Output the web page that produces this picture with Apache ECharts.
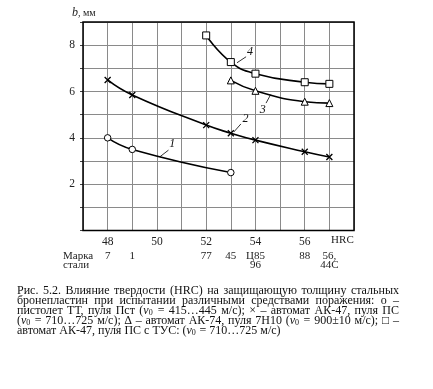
<!DOCTYPE html>
<html><head><meta charset="utf-8">
<script src="https://cdn.jsdelivr.net/npm/echarts@6/dist/echarts.min.js"></script>
<style>html,body{margin:0;padding:0;background:#fff}#c{width:433px;height:389px}</style>
</head><body><div id="c"></div>
<script>
// ---- data ----
const hrcLabels = [48, 50, 52, 54, 56];
const yLabels = [2, 4, 6, 8];
const steelPos = [48, 49, 52, 53, 54, 56, 57];
const steelLabels = ['7', '1', '77', '45', 'Ц85\n96', '88', '56,\n44С'];
const s1x = [48, 49, 53];
const s1y = [4.0, 3.5, 2.5];
const s2x = [48, 49, 52, 53, 54, 56, 57];
const s2y = [6.5, 5.85, 4.55, 4.2, 3.9, 3.4, 3.17];
const s3x = [53, 54, 56, 57];
const s3y = [6.48, 6.03, 5.56, 5.5];
const s4x = [52, 53, 54, 56, 57];
const s4y = [8.42, 7.27, 6.77, 6.4, 6.33];
const curveNames = ['1', '2', '3', '4'];
const captionLines = [
  'Рис. 5.2. Влияние твердости (HRC) на защищающую толщину стальных',
  'бронепластин при испытании различными средствами поражения: о –',
  'пистолет ТТ, пуля Пст (v0 = 415…445 м/с); × – автомат АК-47, пуля ПС',
  '(v0 = 710…725 м/с); ∆ – автомат АК-74, пуля 7Н10 (v0 = 900±10 м/с); □ –',
  'автомат АК-47, пуля ПС с ТУС: (v0 = 710…725 м/с)'
];

// ---- annotation anchors (data coords) ----
const annot = [
  { t: curveNames[0], a: [50.13, 3.19], b: [50.47, 3.47], txt: [50.62, 3.72] },
  { t: curveNames[1], a: [53.12, 4.25], b: [53.41, 4.6], txt: [53.6, 4.8] },
  { t: curveNames[2], a: [54.62, 5.87], b: [54.43, 5.5], txt: [54.3, 5.22] },
  { t: curveNames[3], a: [53.25, 7.24], b: [53.62, 7.5], txt: [53.78, 7.7] }
];

const zip = (xs, ys) => xs.map((x, i) => [x, ys[i]]);
const FONT = 'Liberation Serif';
const chart = echarts.init(document.getElementById('c'), null, { renderer: 'canvas' });

const mk = {
  itemStyle: { color: '#fff', borderColor: '#000', borderWidth: 1 },
  lineStyle: { color: '#000', width: 1.6 },
  smooth: 0.5,
  showSymbol: true,
  symbolSize: 7,
  z: 3
};

chart.setOption({
  animation: false,
  backgroundColor: '#fff',
  grid: { left: 83, top: 22, width: 271, height: 208.5, show: true, borderColor: '#000', borderWidth: 1.5, backgroundColor: 'transparent', z: 5 },
  xAxis: [{
    type: 'value', min: 47, max: 58, interval: 1, position: 'bottom',
    axisLine: { show: false }, axisTick: { show: false },
    splitLine: { show: true, lineStyle: { color: '#8a8a8a', width: 1 } },
    axisLabel: { margin: 5, fontFamily: FONT, fontSize: 11.5, color: '#222',
      formatter: v => hrcLabels.includes(v) ? String(v) : '' }
  }, {
    type: 'value', min: 47, max: 58, interval: 1, position: 'bottom', offset: 17,
    axisLine: { show: false }, axisTick: { show: false }, splitLine: { show: false },
    axisLabel: { margin: 4, fontFamily: FONT, fontSize: 11, color: '#222', lineHeight: 9,
      formatter: v => { const i = steelPos.indexOf(v); return i >= 0 ? steelLabels[i] : ''; } }
  }],
  yAxis: {
    type: 'value', min: 0, max: 9, interval: 1,
    axisLine: { show: false },
    axisTick: { show: true, length: 3, lineStyle: { color: '#444' } },
    splitLine: { show: true, lineStyle: { color: '#8a8a8a', width: 1 } },
    axisLabel: { margin: 8, fontFamily: FONT, fontSize: 11.5, color: '#222',
      formatter: v => yLabels.includes(v) ? String(v) : '' }
  },
  series: [
    Object.assign({}, mk, { type: 'line', name: curveNames[0], data: zip(s1x, s1y), symbol: 'circle', symbolSize: 6.5 }),
    Object.assign({}, mk, { type: 'line', name: curveNames[1], data: zip(s2x, s2y), symbol: 'path://M0,0L10,10M10,0L0,10', symbolSize: 6,
      itemStyle: { color: 'none', borderColor: '#000', borderWidth: 1.3 } }),
    Object.assign({}, mk, { type: 'line', name: curveNames[2], data: zip(s3x, s3y), symbol: 'triangle', symbolSize: 7 }),
    Object.assign({}, mk, { type: 'line', name: curveNames[3], data: zip(s4x, s4y), symbol: 'rect', symbolSize: 7 })
  ]
});

// ---- graphics ----
const g = [];
annot.forEach(a => {
  const p1 = chart.convertToPixel({ gridIndex: 0 }, a.a);
  const p2 = chart.convertToPixel({ gridIndex: 0 }, a.b);
  const pt = chart.convertToPixel({ gridIndex: 0 }, a.txt);
  g.push({ type: 'line', z: 10, shape: { x1: p1[0], y1: p1[1], x2: p2[0], y2: p2[1] }, style: { stroke: '#000', lineWidth: 0.8 } });
  g.push({ type: 'text', z: 10, x: pt[0], y: pt[1], style: { text: a.t, font: 'italic 12px "' + FONT + '"', fill: '#111', align: 'center', verticalAlign: 'middle' } });
});
g.push({ type: 'text', x: 72, y: 13, style: { text: '{i|b}, мм', fill: '#222', verticalAlign: 'middle',
  font: '10px "' + FONT + '"', rich: { i: { fontStyle: 'italic', fontSize: 12, fontFamily: FONT } } } });
const hp = chart.convertToPixel({ gridIndex: 0 }, [57.53, 0]);
g.push({ type: 'text', x: hp[0], y: 240, style: { text: 'HRC', font: '11px "' + FONT + '"', fill: '#222', align: 'center', verticalAlign: 'middle' } });
g.push({ type: 'text', x: 63, y: 252, style: { text: 'Марка\nстали', font: '11px "' + FONT + '"', lineHeight: 8.5, fill: '#222', align: 'left', verticalAlign: 'top' } });

// caption (justified)
const cfs = 12;
const cfont = cfs + 'px "' + FONT + '"';
const ctx = document.createElement('canvas').getContext('2d');
ctx.font = cfont;
const x0 = 17, x1 = 399;
captionLines.forEach((line, li) => {
  const words = line.split(' ');
  const ws = words.map(w => ctx.measureText(w).width - (w.indexOf('v0') >= 0 ? 2 : 0));
  const total = ws.reduce((s, w) => s + w, 0);
  const last = li === captionLines.length - 1;
  const gap = last ? ctx.measureText(' ').width : (x1 - x0 - total) / (words.length - 1);
  let x = x0;
  const y = 291 + li * 10;
  words.forEach((w, i) => {
    const hasV = w.indexOf('v0') >= 0;
    const txt = hasV ? w.replace('v0', '{v|v}{s|0}') : w;
    g.push({ type: 'text', x: x, y: y, style: {
      text: txt, font: cfont, fill: '#111', verticalAlign: 'middle',
      rich: hasV ? { v: { fontStyle: 'italic', fontSize: cfs, fontFamily: FONT }, s: { fontSize: 8, fontFamily: FONT, padding: [4, 0, 0, 0] } } : undefined
    } });
    x += ws[i] + gap;
  });
});
chart.setOption({ graphic: g });
</script>
</body></html>
